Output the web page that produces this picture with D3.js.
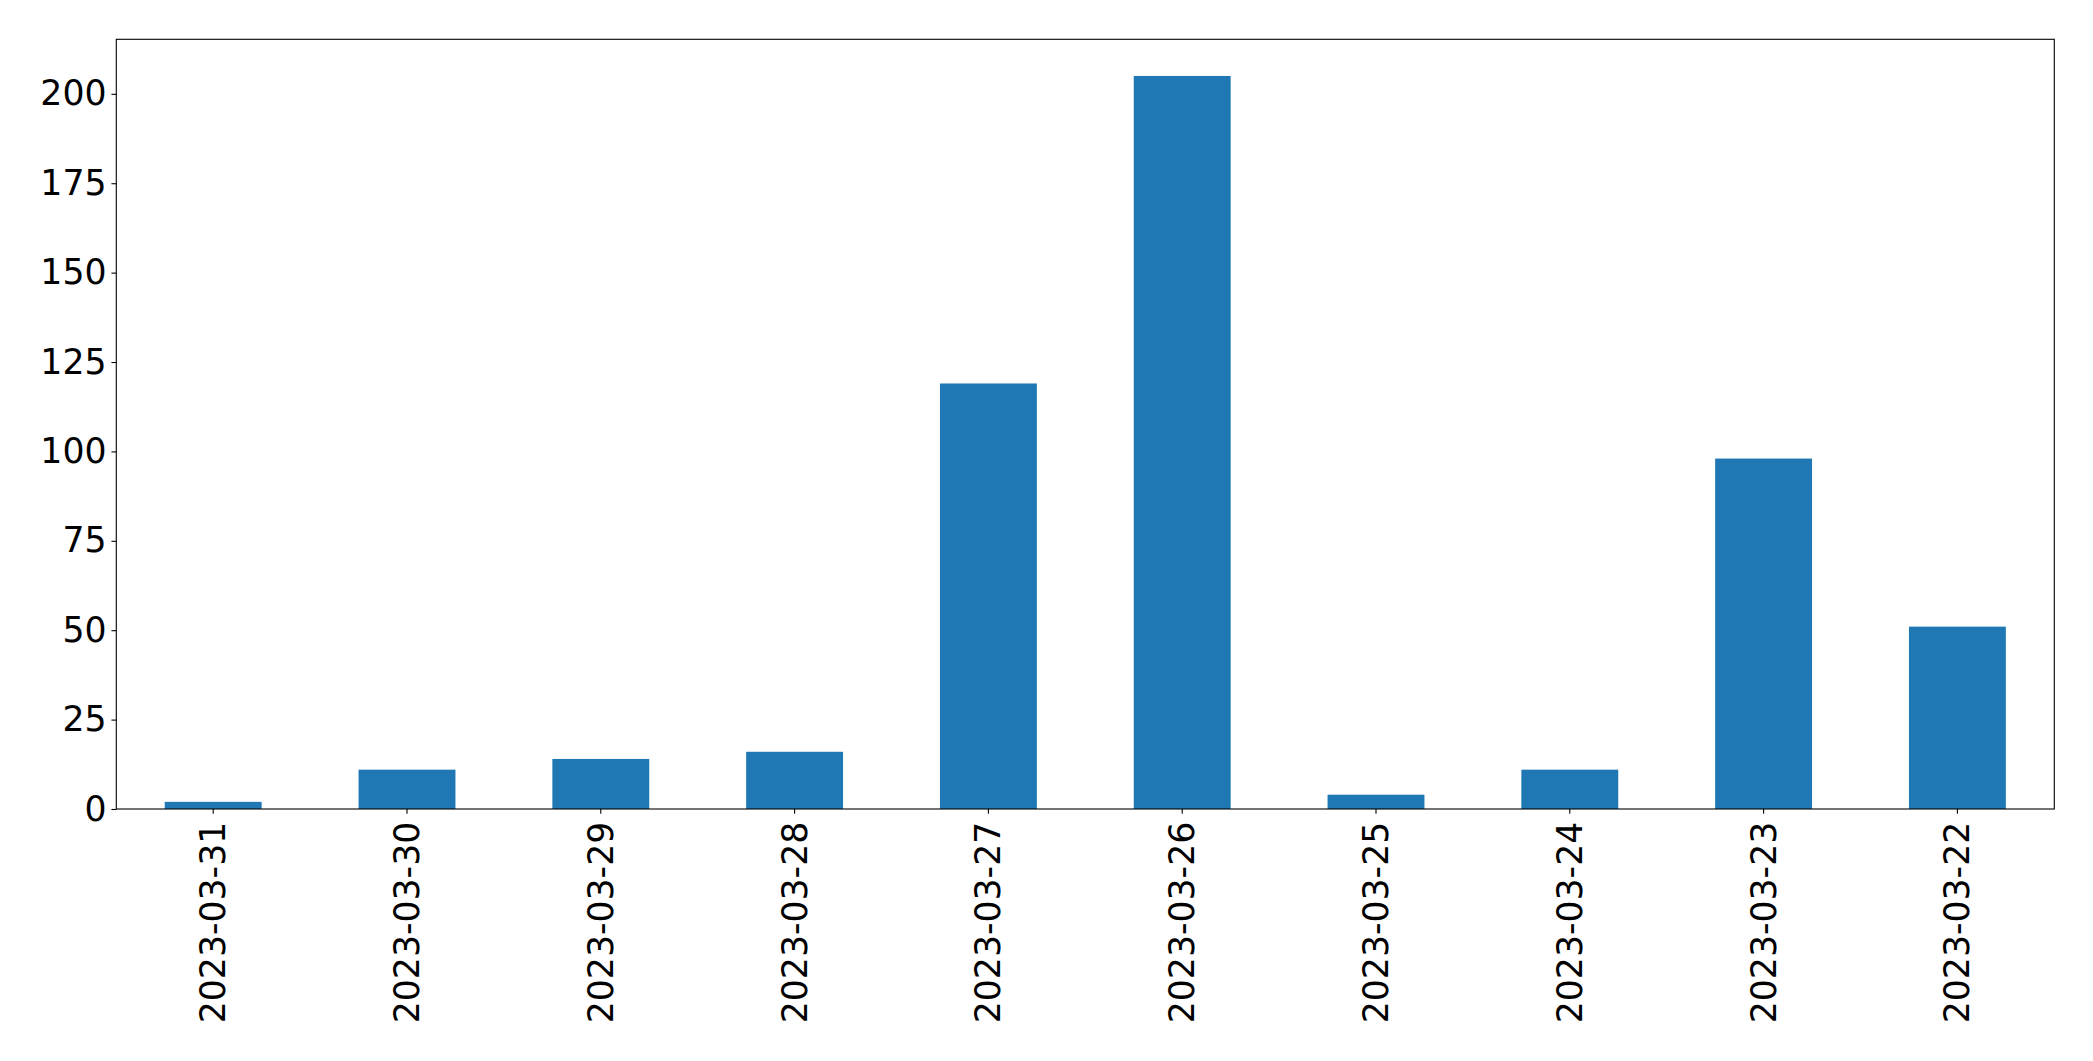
<!DOCTYPE html>
<html>
<head>
<meta charset="utf-8">
<script src="https://cdn.jsdelivr.net/npm/d3@7"></script>
<style>
  html, body { margin: 0; padding: 0; background: #fff; }
  svg { display: block; }
  text { font-family: "DejaVu Sans", sans-serif; }
</style>
</head>
<body>
<svg id="chart" width="2093" height="1061"></svg>
<script>
const categories = ["2023-03-31","2023-03-30","2023-03-29","2023-03-28","2023-03-27","2023-03-26","2023-03-25","2023-03-24","2023-03-23","2023-03-22"];
const values = [2, 11, 14, 16, 119, 205, 4, 11, 98, 51];
const yTicks = [0, 25, 50, 75, 100, 125, 150, 175, 200];

const W = 2093, H = 1061;
const margin = { left: 116.3, right: W - 2054.3, top: 39.3, bottom: H - 809 };
const innerW = W - margin.left - margin.right;
const innerH = H - margin.top - margin.bottom;
const fontPx = 34.7;
const tickLen = 4.86, tickPad = 4.86;

const svg = d3.select("#chart");
const g = svg.append("g").attr("transform", `translate(${margin.left},${margin.top})`);

const x = d3.scaleBand().domain(categories).range([0, innerW]).paddingInner(0.5).paddingOuter(0.25);
const yMax = d3.max(values) * 1.05;
const y = d3.scaleLinear().domain([0, yMax]).range([innerH, 0]);

g.selectAll("rect.bar").data(values).join("rect")
  .attr("class", "bar")
  .attr("x", (d, i) => x(categories[i]))
  .attr("width", x.bandwidth())
  .attr("y", d => y(d))
  .attr("height", d => y(0) - y(d))
  .attr("fill", "#1f77b4");

// Y axis
const yAxis = d3.axisLeft(y).tickValues(yTicks).tickSize(tickLen).tickPadding(tickPad).tickFormat(d3.format("d"));
const ya = g.append("g").call(yAxis);
ya.select(".domain").remove();
ya.selectAll("line").attr("stroke", "#000").attr("stroke-width", 1.1);
ya.selectAll("text").attr("font-size", fontPx).attr("fill", "#000").attr("font-family", "DejaVu Sans");

// X axis
const xAxis = d3.axisBottom(x).tickSize(tickLen).tickPadding(tickPad);
const xa = g.append("g").attr("transform", `translate(0,${innerH})`).call(xAxis);
xa.select(".domain").remove();
xa.selectAll("line").attr("stroke", "#000").attr("stroke-width", 1.1);
xa.selectAll("text")
  .attr("font-size", fontPx).attr("fill", "#000").attr("font-family", "DejaVu Sans")
  .attr("text-anchor", "end")
  .attr("dy", null)
  .attr("y", 0).attr("x", 0)
  .attr("transform", `translate(0,${tickLen + tickPad + 3}) rotate(-90)`)
  .attr("dominant-baseline", "central");

// Frame
g.append("rect").attr("x", 0).attr("y", 0).attr("width", innerW).attr("height", innerH)
  .attr("fill", "none").attr("stroke", "#000").attr("stroke-width", 1.1);
</script>
</body>
</html>
